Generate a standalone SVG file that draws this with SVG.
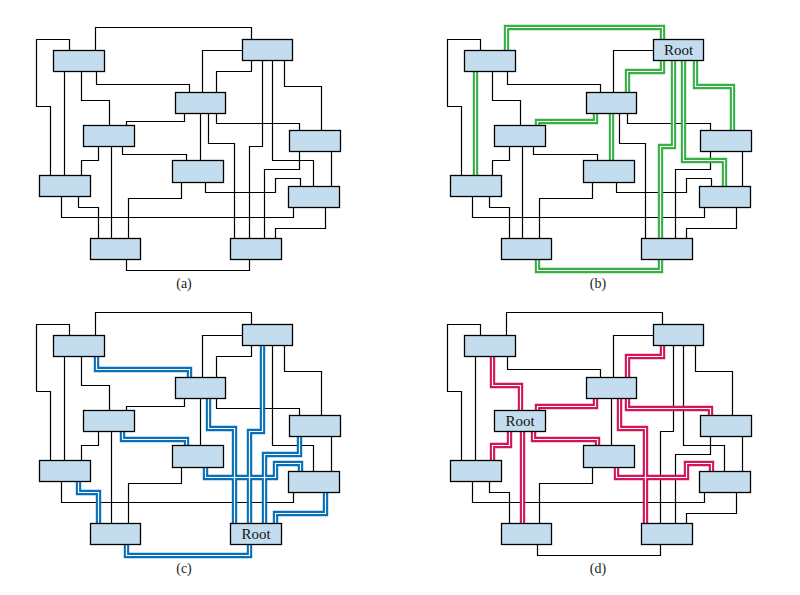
<svg xmlns="http://www.w3.org/2000/svg" width="800" height="595" viewBox="0 0 800 595">
<defs>
<style>
.w{fill:none;stroke:#000;stroke-width:1.2}
.box{fill:#c3ddef;stroke:#000;stroke-width:1.3}
.hg{fill:none;stroke:#36b045;stroke-width:5.4}
.hb{fill:none;stroke:#0570b8;stroke-width:5.4}
.hr{fill:none;stroke:#d2145a;stroke-width:5.4}
.hc{fill:none;stroke:#fff;stroke-width:1.2}
.lbl{font-family:"Liberation Serif",serif;font-size:14px;fill:#222;text-anchor:middle}
.root{font-family:"Liberation Serif",serif;font-size:15px;fill:#111;text-anchor:middle}
</style>
<path id="e1" d="M69.5,50.5V39.5H36.5V106.5H50.5V175.5"/>
<path id="e2" d="M95.5,50.5V27.5H251.5V39.5"/>
<path id="e3" d="M64.5,71.5V175.5"/>
<path id="e4" d="M81.5,71.5V100.5H109.5V125.5"/>
<path id="e5" d="M96.5,71.5V84.5H189.5V92.5"/>
<path id="e6" d="M184.5,113.5V121.5H126.5V125.5"/>
<path id="e7" d="M202.5,92.5V50.5H242.5"/>
<path id="e8" d="M216.5,92.5V71.5H251.5V60.5"/>
<path id="e9" d="M262.5,60.5V146.5H249.5V238.5"/>
<path id="e10" d="M272.5,60.5V160.5H313.5V186.5"/>
<path id="e11" d="M284.5,60.5V86.5H321.5V130.5"/>
<path id="e12" d="M200.5,113.5V160.5"/>
<path id="e13" d="M208.5,113.5V143.5H234.5V238.5"/>
<path id="e14" d="M216.5,113.5V123.5H299.5V130.5"/>
<path id="e15" d="M98.5,146.5V160.5H81.5V175.5"/>
<path id="e16" d="M111.5,146.5V238.5"/>
<path id="e17" d="M122.5,146.5V154.5H186.5V160.5"/>
<path id="e18" d="M299.5,151.5V169.5H264.5V238.5"/>
<path id="e19" d="M331.5,151.5V186.5"/>
<path id="e20" d="M205.5,182.5V192.5H275.5V178.5H300.5V186.5"/>
<path id="e21" d="M61.5,196.5V217.5H293.5V207.5"/>
<path id="e22" d="M78.5,196.5V207.5H98.5V238.5"/>
<path id="e23" d="M181.5,182.5V198.5H128.5V238.5"/>
<path id="e24" d="M325.5,207.5V228.5H275.5V238.5"/>
<path id="e25" d="M249.5,259.5V270.5H126.5V259.5"/>
<g id="wires" class="w">
<use href="#e1"/><use href="#e2"/><use href="#e3"/><use href="#e4"/><use href="#e5"/>
<use href="#e6"/><use href="#e7"/><use href="#e8"/><use href="#e9"/><use href="#e10"/>
<use href="#e11"/><use href="#e12"/><use href="#e13"/><use href="#e14"/><use href="#e15"/>
<use href="#e16"/><use href="#e17"/><use href="#e18"/><use href="#e19"/><use href="#e20"/>
<use href="#e21"/><use href="#e22"/><use href="#e23"/><use href="#e24"/><use href="#e25"/>
</g>
</defs>
<rect width="800" height="595" fill="#fff"/>

<!-- Panel (a) -->
<g id="panel-a">
<g id="a-connectors"><use href="#wires"/></g>
<g id="a-A"><rect class="box" x="53.5" y="50.5" width="51" height="21"/></g>
<g id="a-B"><rect class="box" x="242.5" y="39.5" width="50" height="21"/></g>
<g id="a-C"><rect class="box" x="83.5" y="125.5" width="51" height="21"/></g>
<g id="a-D"><rect class="box" x="175.5" y="92.5" width="50" height="21"/></g>
<g id="a-E"><rect class="box" x="39.5" y="175.5" width="51" height="21"/></g>
<g id="a-F"><rect class="box" x="172.5" y="160.5" width="51" height="22"/></g>
<g id="a-G"><rect class="box" x="289.5" y="130.5" width="51" height="21"/></g>
<g id="a-H"><rect class="box" x="288.5" y="186.5" width="51" height="21"/></g>
<g id="a-I"><rect class="box" x="90.5" y="238.5" width="50" height="21"/></g>
<g id="a-J"><rect class="box" x="230.5" y="238.5" width="51" height="21"/></g>
</g>

<!-- Panel (b) -->
<g id="panel-b" transform="translate(411,0)">
<g id="b-connectors">
<use href="#wires"/>
<g class="hg"><use href="#e2"/><use href="#e3"/><use href="#e6"/><use href="#e8"/><use href="#e9"/><use href="#e10"/><use href="#e11"/><use href="#e12"/><use href="#e25"/></g>
<g class="hc"><use href="#e2"/><use href="#e3"/><use href="#e6"/><use href="#e8"/><use href="#e9"/><use href="#e10"/><use href="#e11"/><use href="#e12"/><use href="#e25"/></g>
</g>
<g id="b-A"><rect class="box" x="53.5" y="50.5" width="51" height="21"/></g>
<g id="b-B"><rect class="box" x="242.5" y="39.5" width="50" height="21"/><text class="root" x="267.5" y="55">Root</text></g>
<g id="b-C"><rect class="box" x="83.5" y="125.5" width="51" height="21"/></g>
<g id="b-D"><rect class="box" x="175.5" y="92.5" width="50" height="21"/></g>
<g id="b-E"><rect class="box" x="39.5" y="175.5" width="51" height="21"/></g>
<g id="b-F"><rect class="box" x="172.5" y="160.5" width="51" height="22"/></g>
<g id="b-G"><rect class="box" x="289.5" y="130.5" width="51" height="21"/></g>
<g id="b-H"><rect class="box" x="288.5" y="186.5" width="51" height="21"/></g>
<g id="b-I"><rect class="box" x="90.5" y="238.5" width="50" height="21"/></g>
<g id="b-J"><rect class="box" x="230.5" y="238.5" width="51" height="21"/></g>
</g>

<!-- Panel (c) -->
<g id="panel-c" transform="translate(0,285)">
<g id="c-connectors">
<use href="#wires"/>
<g class="hb"><use href="#e5"/><use href="#e9"/><use href="#e13"/><use href="#e17"/><use href="#e18"/><use href="#e20"/><use href="#e22"/><use href="#e24"/><use href="#e25"/></g>
<g class="hc"><use href="#e5"/><use href="#e9"/><use href="#e13"/><use href="#e17"/><use href="#e18"/><use href="#e20"/><use href="#e22"/><use href="#e24"/><use href="#e25"/></g>
</g>
<g id="c-A"><rect class="box" x="53.5" y="50.5" width="51" height="21"/></g>
<g id="c-B"><rect class="box" x="242.5" y="39.5" width="50" height="21"/></g>
<g id="c-C"><rect class="box" x="83.5" y="125.5" width="51" height="21"/></g>
<g id="c-D"><rect class="box" x="175.5" y="92.5" width="50" height="21"/></g>
<g id="c-E"><rect class="box" x="39.5" y="175.5" width="51" height="21"/></g>
<g id="c-F"><rect class="box" x="172.5" y="160.5" width="51" height="22"/></g>
<g id="c-G"><rect class="box" x="289.5" y="130.5" width="51" height="21"/></g>
<g id="c-H"><rect class="box" x="288.5" y="186.5" width="51" height="21"/></g>
<g id="c-I"><rect class="box" x="90.5" y="238.5" width="50" height="21"/></g>
<g id="c-J"><rect class="box" x="230.5" y="238.5" width="51" height="21"/><text class="root" x="256" y="254">Root</text></g>
</g>

<!-- Panel (d) -->
<g id="panel-d" transform="translate(411,285)">
<g id="d-connectors">
<use href="#wires"/>
<g class="hr"><use href="#e4"/><use href="#e6"/><use href="#e8"/><use href="#e13"/><use href="#e14"/><use href="#e15"/><use href="#e16"/><use href="#e17"/><use href="#e20"/></g>
<g class="hc"><use href="#e4"/><use href="#e6"/><use href="#e8"/><use href="#e13"/><use href="#e14"/><use href="#e15"/><use href="#e16"/><use href="#e17"/><use href="#e20"/></g>
</g>
<g id="d-A"><rect class="box" x="53.5" y="50.5" width="51" height="21"/></g>
<g id="d-B"><rect class="box" x="242.5" y="39.5" width="50" height="21"/></g>
<g id="d-C"><rect class="box" x="83.5" y="125.5" width="51" height="21"/><text class="root" x="109" y="141">Root</text></g>
<g id="d-D"><rect class="box" x="175.5" y="92.5" width="50" height="21"/></g>
<g id="d-E"><rect class="box" x="39.5" y="175.5" width="51" height="21"/></g>
<g id="d-F"><rect class="box" x="172.5" y="160.5" width="51" height="22"/></g>
<g id="d-G"><rect class="box" x="289.5" y="130.5" width="51" height="21"/></g>
<g id="d-H"><rect class="box" x="288.5" y="186.5" width="51" height="21"/></g>
<g id="d-I"><rect class="box" x="90.5" y="238.5" width="50" height="21"/></g>
<g id="d-J"><rect class="box" x="230.5" y="238.5" width="51" height="21"/></g>
</g>

<g id="labels">
<text class="lbl" x="184" y="288">(a)</text>
<text class="lbl" x="598" y="288">(b)</text>
<text class="lbl" x="184" y="573">(c)</text>
<text class="lbl" x="598" y="573">(d)</text>
</g>
</svg>
